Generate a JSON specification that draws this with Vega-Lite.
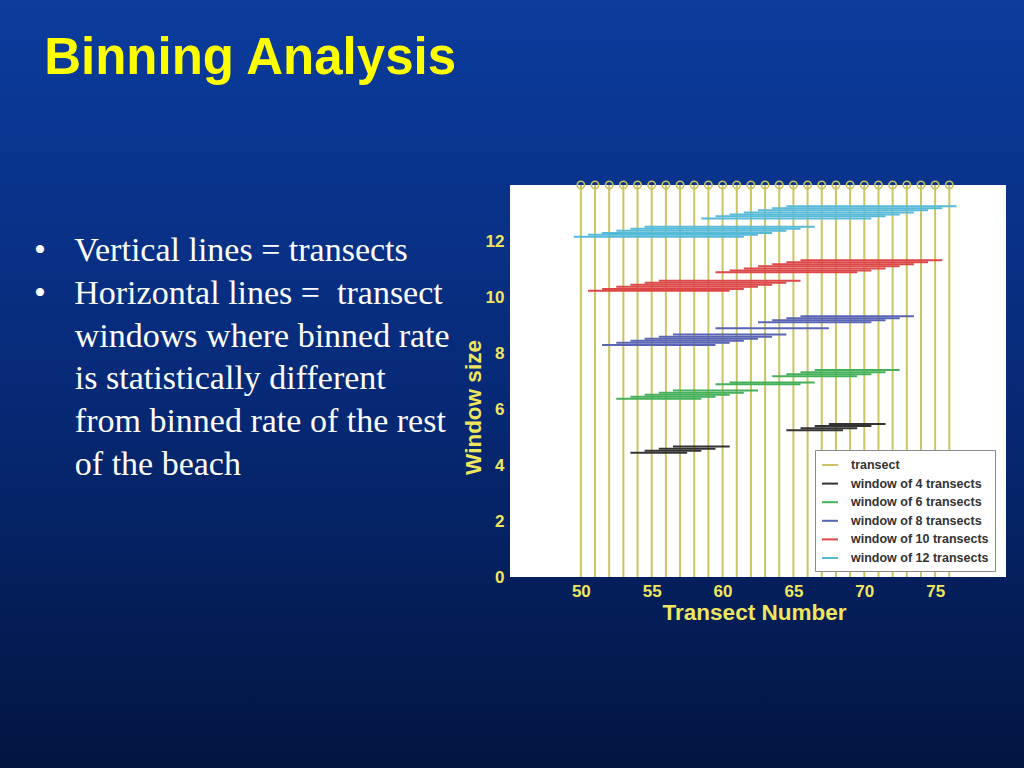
{
  "$schema": "https://vega.github.io/schema/vega-lite/v6.json",
  "width": 496,
  "height": 392,
  "autosize": {"type": "none"},
  "padding": {"left": 510, "top": 185, "right": 18, "bottom": 191},
  "background": "#021541",
  "title": {
    "text": "\u2060\u2009Binning Analysis",
    "subtitle": [
      "\u2022\u00a0\u00a0\u00a0\u200aVertical lines = transects",
      "\u2022\u00a0\u00a0\u00a0\u200aHorizontal lines =\u00a0 transect",
      "\u2060\u00a0\u00a0\u00a0\u00a0\u2009windows where binned rate",
      "\u2060\u00a0\u00a0\u00a0\u00a0\u2009is statistically different",
      "\u2060\u00a0\u00a0\u00a0\u00a0\u2009from binned rate of the rest",
      "\u2060\u00a0\u00a0\u00a0\u00a0\u2009of the beach"
    ],
    "orient": "top",
    "anchor": "start",
    "frame": "group",
    "offset": 0,
    "dx": -476,
    "dy": 483,
    "font": "Liberation Sans",
    "fontSize": 51,
    "fontWeight": "bold",
    "color": "#ffff00",
    "subtitleFont": "Liberation Serif",
    "subtitleFontSize": 34,
    "subtitleFontWeight": "normal",
    "subtitleColor": "#ffffff",
    "subtitlePadding": 149,
    "subtitleLineHeight": 42.8
  },
  "datasets": {
    "transects": [
      {"series": "transect", "t": 50}, {"series": "transect", "t": 51}, {"series": "transect", "t": 52},
      {"series": "transect", "t": 53}, {"series": "transect", "t": 54}, {"series": "transect", "t": 55},
      {"series": "transect", "t": 56}, {"series": "transect", "t": 57}, {"series": "transect", "t": 58},
      {"series": "transect", "t": 59}, {"series": "transect", "t": 60}, {"series": "transect", "t": 61},
      {"series": "transect", "t": 62}, {"series": "transect", "t": 63}, {"series": "transect", "t": 64},
      {"series": "transect", "t": 65}, {"series": "transect", "t": 66}, {"series": "transect", "t": 67},
      {"series": "transect", "t": 68}, {"series": "transect", "t": 69}, {"series": "transect", "t": 70},
      {"series": "transect", "t": 71}, {"series": "transect", "t": 72}, {"series": "transect", "t": 73},
      {"series": "transect", "t": 74}, {"series": "transect", "t": 75}, {"series": "transect", "t": 76}
    ],
    "windows": [
      {"series": "window of 4 transects", "x0": 53.5, "x1": 57.5, "y": 4.44},
      {"series": "window of 4 transects", "x0": 54.5, "x1": 58.5, "y": 4.51},
      {"series": "window of 4 transects", "x0": 55.5, "x1": 59.5, "y": 4.58},
      {"series": "window of 4 transects", "x0": 56.5, "x1": 60.5, "y": 4.66},
      {"series": "window of 4 transects", "x0": 64.5, "x1": 68.5, "y": 5.24},
      {"series": "window of 4 transects", "x0": 65.5, "x1": 69.5, "y": 5.31},
      {"series": "window of 4 transects", "x0": 66.5, "x1": 70.5, "y": 5.39},
      {"series": "window of 4 transects", "x0": 67.5, "x1": 71.5, "y": 5.46},
      {"series": "window of 6 transects", "x0": 52.5, "x1": 58.5, "y": 6.37},
      {"series": "window of 6 transects", "x0": 53.5, "x1": 59.5, "y": 6.44},
      {"series": "window of 6 transects", "x0": 54.5, "x1": 60.5, "y": 6.51},
      {"series": "window of 6 transects", "x0": 55.5, "x1": 61.5, "y": 6.58},
      {"series": "window of 6 transects", "x0": 56.5, "x1": 62.5, "y": 6.66},
      {"series": "window of 6 transects", "x0": 59.5, "x1": 65.5, "y": 6.88},
      {"series": "window of 6 transects", "x0": 60.5, "x1": 66.5, "y": 6.95},
      {"series": "window of 6 transects", "x0": 63.5, "x1": 69.5, "y": 7.17},
      {"series": "window of 6 transects", "x0": 64.5, "x1": 70.5, "y": 7.24},
      {"series": "window of 6 transects", "x0": 65.5, "x1": 71.5, "y": 7.31},
      {"series": "window of 6 transects", "x0": 66.5, "x1": 72.5, "y": 7.39},
      {"series": "window of 8 transects", "x0": 51.5, "x1": 59.5, "y": 8.29},
      {"series": "window of 8 transects", "x0": 52.5, "x1": 60.5, "y": 8.37},
      {"series": "window of 8 transects", "x0": 53.5, "x1": 61.5, "y": 8.44},
      {"series": "window of 8 transects", "x0": 54.5, "x1": 62.5, "y": 8.51},
      {"series": "window of 8 transects", "x0": 55.5, "x1": 63.5, "y": 8.58},
      {"series": "window of 8 transects", "x0": 56.5, "x1": 64.5, "y": 8.66},
      {"series": "window of 8 transects", "x0": 59.5, "x1": 67.5, "y": 8.88},
      {"series": "window of 8 transects", "x0": 62.5, "x1": 70.5, "y": 9.10},
      {"series": "window of 8 transects", "x0": 63.5, "x1": 71.5, "y": 9.17},
      {"series": "window of 8 transects", "x0": 64.5, "x1": 72.5, "y": 9.24},
      {"series": "window of 8 transects", "x0": 65.5, "x1": 73.5, "y": 9.31},
      {"series": "window of 10 transects", "x0": 50.5, "x1": 60.5, "y": 10.22},
      {"series": "window of 10 transects", "x0": 51.5, "x1": 61.5, "y": 10.29},
      {"series": "window of 10 transects", "x0": 52.5, "x1": 62.5, "y": 10.37},
      {"series": "window of 10 transects", "x0": 53.5, "x1": 63.5, "y": 10.44},
      {"series": "window of 10 transects", "x0": 54.5, "x1": 64.5, "y": 10.51},
      {"series": "window of 10 transects", "x0": 55.5, "x1": 65.5, "y": 10.58},
      {"series": "window of 10 transects", "x0": 59.5, "x1": 69.5, "y": 10.88},
      {"series": "window of 10 transects", "x0": 60.5, "x1": 70.5, "y": 10.95},
      {"series": "window of 10 transects", "x0": 61.5, "x1": 71.5, "y": 11.02},
      {"series": "window of 10 transects", "x0": 62.5, "x1": 72.5, "y": 11.10},
      {"series": "window of 10 transects", "x0": 63.5, "x1": 73.5, "y": 11.17},
      {"series": "window of 10 transects", "x0": 64.5, "x1": 74.5, "y": 11.24},
      {"series": "window of 10 transects", "x0": 65.5, "x1": 75.5, "y": 11.31},
      {"series": "window of 12 transects", "x0": 49.5, "x1": 61.5, "y": 12.15},
      {"series": "window of 12 transects", "x0": 50.5, "x1": 62.5, "y": 12.22},
      {"series": "window of 12 transects", "x0": 51.5, "x1": 63.5, "y": 12.29},
      {"series": "window of 12 transects", "x0": 52.5, "x1": 64.5, "y": 12.37},
      {"series": "window of 12 transects", "x0": 53.5, "x1": 65.5, "y": 12.44},
      {"series": "window of 12 transects", "x0": 54.5, "x1": 66.5, "y": 12.51},
      {"series": "window of 12 transects", "x0": 58.5, "x1": 70.5, "y": 12.80},
      {"series": "window of 12 transects", "x0": 59.5, "x1": 71.5, "y": 12.88},
      {"series": "window of 12 transects", "x0": 60.5, "x1": 72.5, "y": 12.95},
      {"series": "window of 12 transects", "x0": 61.5, "x1": 73.5, "y": 13.02},
      {"series": "window of 12 transects", "x0": 62.5, "x1": 74.5, "y": 13.10},
      {"series": "window of 12 transects", "x0": 63.5, "x1": 75.5, "y": 13.17},
      {"series": "window of 12 transects", "x0": 64.5, "x1": 76.5, "y": 13.24}
    ]
  },
  "layer": [
    {
      "data": {"values": [{}]},
      "mark": {
        "type": "rect",
        "clip": false,
        "fill": {
          "gradient": "linear", "x1": 0, "y1": 0, "x2": 0, "y2": 1,
          "stops": [
            {"offset": 0, "color": "#0b3c9e"},
            {"offset": 0.5, "color": "#072a78"},
            {"offset": 1, "color": "#021541"}
          ]
        }
      },
      "encoding": {
        "x": {"datum": 9, "type": "quantitative", "scale": {"domain": [45, 80], "nice": false, "zero": false},
              "axis": {"values": [50, 55, 60, 65, 70, 75], "title": "Transect Number", "labelPadding": 6, "titlePadding": 2, "titleX": 244, "labelOverlap": false, "labelFlush": false, "zindex": 2}},
        "x2": {"datum": 81.3},
        "y": {"datum": -6.83, "type": "quantitative", "scale": {"domain": [0, 14], "nice": false, "zero": false},
              "axis": {"values": [0, 2, 4, 6, 8, 10, 12], "title": "Window size", "labelPadding": 6, "titlePadding": 0, "titleY": 222, "labelOverlap": false, "zindex": 2}},
        "y2": {"datum": 20.61}
      }
    },
    {
      "data": {"values": [{}]},
      "mark": {"type": "rect", "fill": "#ffffff"},
      "encoding": {
        "x": {"datum": 45, "type": "quantitative", "scale": {"domain": [45, 80], "nice": false, "zero": false},
              "axis": {"values": [50, 55, 60, 65, 70, 75], "title": "Transect Number", "labelPadding": 6, "titlePadding": 2, "titleX": 244, "labelOverlap": false, "labelFlush": false, "zindex": 2}},
        "x2": {"datum": 80},
        "y": {"datum": 0, "type": "quantitative", "scale": {"domain": [0, 14], "nice": false, "zero": false},
              "axis": {"values": [0, 2, 4, 6, 8, 10, 12], "title": "Window size", "labelPadding": 6, "titlePadding": 0, "titleY": 222, "labelOverlap": false, "zindex": 2}},
        "y2": {"datum": 14}
      }
    },
    {
      "data": {"name": "transects"},
      "mark": {"type": "rule", "strokeWidth": 2},
      "encoding": {
        "x": {"field": "t", "type": "quantitative", "scale": {"domain": [45, 80], "nice": false, "zero": false},
              "axis": {"values": [50, 55, 60, 65, 70, 75], "title": "Transect Number", "labelPadding": 6, "titlePadding": 2, "titleX": 244, "labelOverlap": false, "labelFlush": false, "zindex": 2}},
        "y": {"datum": 0, "type": "quantitative", "scale": {"domain": [0, 14], "nice": false, "zero": false},
              "axis": {"values": [0, 2, 4, 6, 8, 10, 12], "title": "Window size", "labelPadding": 6, "titlePadding": 0, "titleY": 222, "labelOverlap": false, "zindex": 2}},
        "y2": {"datum": 14},
        "color": {
          "field": "series", "type": "nominal", "title": null,
          "scale": {
            "domain": ["transect", "window of 4 transects", "window of 6 transects", "window of 8 transects", "window of 10 transects", "window of 12 transects"],
            "range": ["#cbc462", "#333333", "#45b05a", "#5a64b4", "#dd4747", "#56bad8"]
          },
          "legend": {"orient": "none", "legendX": 305, "legendY": 265, "title": null}
        }
      }
    },
    {
      "data": {"name": "windows"},
      "mark": {"type": "rule", "strokeWidth": 2},
      "encoding": {
        "x": {"field": "x0", "type": "quantitative", "scale": {"domain": [45, 80], "nice": false, "zero": false},
              "axis": {"values": [50, 55, 60, 65, 70, 75], "title": "Transect Number", "labelPadding": 6, "titlePadding": 2, "titleX": 244, "labelOverlap": false, "labelFlush": false, "zindex": 2}},
        "x2": {"field": "x1"},
        "y": {"field": "y", "type": "quantitative", "scale": {"domain": [0, 14], "nice": false, "zero": false},
              "axis": {"values": [0, 2, 4, 6, 8, 10, 12], "title": "Window size", "labelPadding": 6, "titlePadding": 0, "titleY": 222, "labelOverlap": false, "zindex": 2}},
        "color": {
          "field": "series", "type": "nominal", "title": null,
          "scale": {
            "domain": ["transect", "window of 4 transects", "window of 6 transects", "window of 8 transects", "window of 10 transects", "window of 12 transects"],
            "range": ["#cbc462", "#333333", "#45b05a", "#5a64b4", "#dd4747", "#56bad8"]
          },
          "legend": {"orient": "none", "legendX": 305, "legendY": 265, "title": null}
        }
      }
    },
    {
      "data": {"name": "transects"},
      "mark": {"type": "point", "shape": "circle", "filled": false, "size": 55, "strokeWidth": 1.6, "color": "#c9c25d", "opacity": 1, "clip": false},
      "encoding": {
        "x": {"field": "t", "type": "quantitative", "scale": {"domain": [45, 80], "nice": false, "zero": false},
              "axis": {"values": [50, 55, 60, 65, 70, 75], "title": "Transect Number", "labelPadding": 6, "titlePadding": 2, "titleX": 244, "labelOverlap": false, "labelFlush": false, "zindex": 2}},
        "y": {"datum": 14, "type": "quantitative", "scale": {"domain": [0, 14], "nice": false, "zero": false},
              "axis": {"values": [0, 2, 4, 6, 8, 10, 12], "title": "Window size", "labelPadding": 6, "titlePadding": 0, "titleY": 222, "labelOverlap": false, "zindex": 2}}
      }
    }
  ],
  "config": {
    "view": {"stroke": null},
    "axis": {
      "domain": false, "ticks": false, "grid": false,
      "labelColor": "#efe65e", "titleColor": "#efe65e",
      "labelFont": "Liberation Sans", "titleFont": "Liberation Sans",
      "labelFontWeight": "bold", "titleFontWeight": "bold",
      "labelFontSize": 17, "titleFontSize": 22.5,
      "zindex": 2
    },
    "legend": {
      "orient": "none",
      "fillColor": "#ffffff",
      "strokeColor": "#8a8a8a",
      "padding": 6,
      "symbolType": "stroke",
      "symbolSize": 256,
      "symbolStrokeWidth": 2,
      "labelFont": "Liberation Sans",
      "labelFontSize": 12.5,
      "labelFontWeight": "bold",
      "labelColor": "#333333",
      "labelOffset": 12,
      "labelLimit": 300,
      "rowPadding": 2.6
    }
  }
}
